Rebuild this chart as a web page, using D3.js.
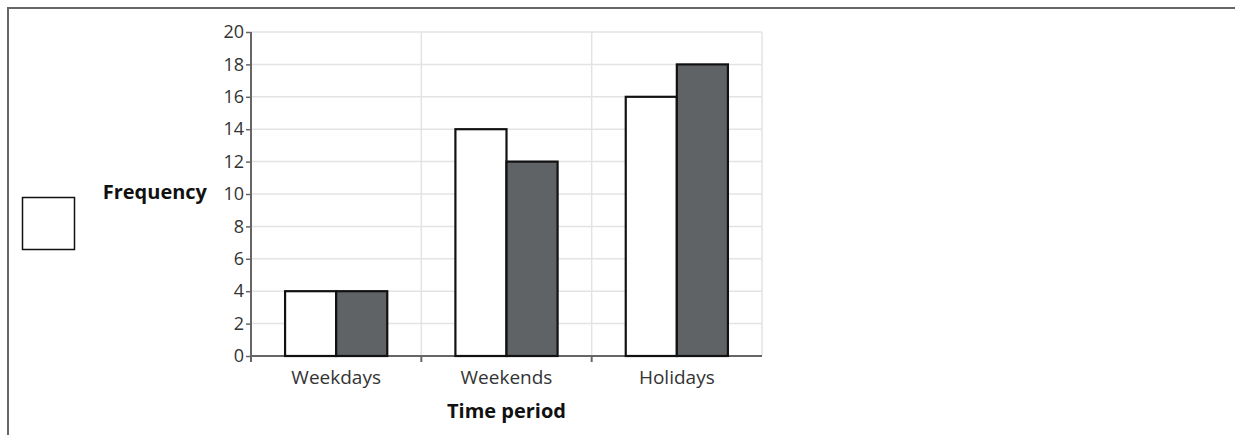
<!DOCTYPE html>
<html>
<head>
<meta charset="utf-8">
<script src="https://cdn.jsdelivr.net/npm/d3@7"></script>
<style>
  body { margin: 0; background: #fff; }
  text { font-family: "Open Sans", sans-serif; }
</style>
</head>
<body>
<script>
var categories = ["Weekdays", "Weekends", "Holidays"];
var seriesA = [4, 14, 16];   // white bars
var seriesB = [4, 12, 18];   // dark bars
var yTicks = [0, 2, 4, 6, 8, 10, 12, 14, 16, 18, 20];

var width = 1235, height = 435;
var svg = d3.select("body").append("svg")
    .attr("width", width)
    .attr("height", height);

// outer frame (top + left)
svg.append("path")
    .attr("d", "M8,435 V8 H1235")
    .attr("fill", "none")
    .attr("stroke", "#666")
    .attr("stroke-width", 2);

// empty square on the left
svg.append("rect")
    .attr("x", 22.5).attr("y", 197.5)
    .attr("width", 52).attr("height", 52)
    .attr("fill", "#fff")
    .attr("stroke", "#111")
    .attr("stroke-width", 1.5);

var plotLeft = 251, plotRight = 762, plotTop = 32, plotBottom = 356;

var x = d3.scaleBand()
    .domain(categories)
    .range([plotLeft, plotRight]);

var inner = d3.scaleBand()
    .domain(["a", "b"])
    .range([0, x.bandwidth()])
    .paddingOuter(0.667)
    .paddingInner(0);

var y = d3.scaleLinear()
    .domain([0, 20])
    .range([plotBottom, plotTop]);

// grid
var grid = svg.append("g");
grid.selectAll("line.h")
    .data(yTicks.slice(1))
    .enter().append("line")
    .attr("x1", plotLeft).attr("x2", plotRight)
    .attr("y1", d => y(d)).attr("y2", d => y(d))
    .attr("stroke", "#e3e3e3")
    .attr("stroke-width", 1.5);
grid.selectAll("line.v")
    .data(categories)
    .enter().append("line")
    .attr("x1", d => x(d) + x.bandwidth()).attr("x2", d => x(d) + x.bandwidth())
    .attr("y1", plotTop).attr("y2", plotBottom)
    .attr("stroke", "#e3e3e3")
    .attr("stroke-width", 1.5);

// y axis
var yAxis = d3.axisLeft(y).tickValues(yTicks).tickSize(5).tickPadding(2).tickSizeOuter(0);
var yg = svg.append("g")
    .attr("transform", "translate(" + plotLeft + ",0)")
    .call(yAxis);
yg.select(".domain").remove();
yg.append("line")
    .attr("x1", 0).attr("x2", 0)
    .attr("y1", plotTop).attr("y2", plotBottom + 6)
    .attr("stroke", "#666").attr("stroke-width", 2);
yg.selectAll(".tick line").attr("stroke", "#666").attr("stroke-width", 1.5);
yg.selectAll(".tick text")
    .attr("fill", "#333")
    .attr("font-size", "18px")
    .attr("font-family", "Open Sans, sans-serif");

// x axis
var xg = svg.append("g")
    .attr("transform", "translate(0," + plotBottom + ")");
xg.append("line")
    .attr("x1", plotLeft).attr("x2", plotRight)
    .attr("stroke", "#666").attr("stroke-width", 2);
xg.selectAll("line.tk")
    .data(categories.slice(1))
    .enter().append("line")
    .attr("x1", d => x(d)).attr("x2", d => x(d))
    .attr("y1", 0).attr("y2", 6)
    .attr("stroke", "#666").attr("stroke-width", 2);
xg.selectAll("text")
    .data(categories)
    .enter().append("text")
    .attr("x", d => x(d) + x.bandwidth() / 2)
    .attr("y", 28)
    .attr("text-anchor", "middle")
    .attr("fill", "#333")
    .attr("font-size", "19px")
    .text(d => d);

// bars (on top of the axis line)
var groups = svg.selectAll("g.cat")
    .data(categories)
    .enter().append("g")
    .attr("class", "cat")
    .attr("transform", d => "translate(" + x(d) + ",0)");

groups.append("rect")
    .attr("x", inner("a"))
    .attr("y", (d, i) => y(seriesA[i]))
    .attr("width", inner.bandwidth())
    .attr("height", (d, i) => y(0) - y(seriesA[i]))
    .attr("fill", "#fff")
    .attr("stroke", "#111")
    .attr("stroke-width", 2.2);

groups.append("rect")
    .attr("x", inner("b"))
    .attr("y", (d, i) => y(seriesB[i]))
    .attr("width", inner.bandwidth())
    .attr("height", (d, i) => y(0) - y(seriesB[i]))
    .attr("fill", "#606366")
    .attr("stroke", "#111")
    .attr("stroke-width", 2.2);

// axis titles
svg.append("text")
    .attr("x", 207).attr("y", 199)
    .attr("text-anchor", "end")
    .attr("font-weight", "bold")
    .attr("font-size", "20px")
    .attr("fill", "#111")
    .text("Frequency");

svg.append("text")
    .attr("x", (plotLeft + plotRight) / 2).attr("y", 418)
    .attr("text-anchor", "middle")
    .attr("font-weight", "bold")
    .attr("font-size", "20px")
    .attr("fill", "#111")
    .text("Time period");
</script>
</body>
</html>
